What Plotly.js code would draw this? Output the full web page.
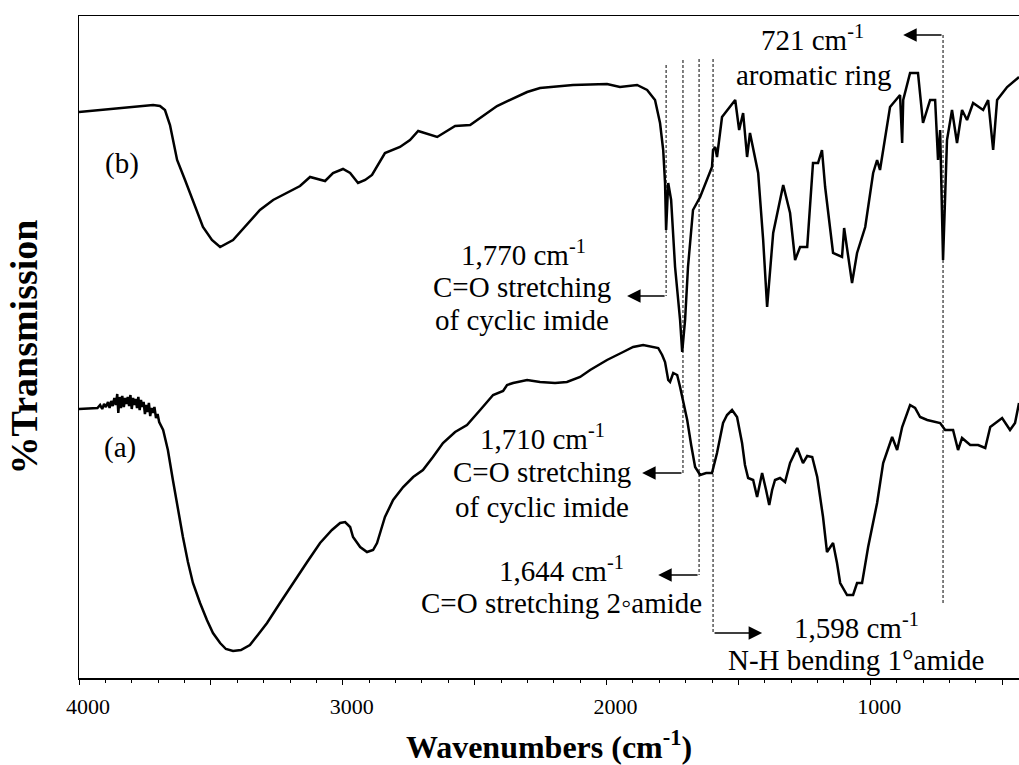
<!DOCTYPE html>
<html>
<head>
<meta charset="utf-8">
<script src="https://cdn.plot.ly/plotly-3.0.1.min.js"></script>
<style>html,body{margin:0;padding:0;background:#fff;}#chart{width:1019px;height:765px;}</style>
</head>
<body>
<div id="chart"></div>
<script>
// Spectrum (b) - top trace
const wnB = [4000,3920,3807,3719,3693,3674,3655,3628,3598,3568,3530,3496,3465,3416,3371,3314,3264,3211,3162,3124,3094,3067,3037,2999,2972,2942,2915,2889,2840,2783,2745,2714,2642,2574,2517,2460,2415,2301,2252,2127,1998,1949,1884,1846,1816,1797,1785,1778,1774,1766,1755,1740,1721,1713,1702,1691,1672,1645,1615,1600,1596,1588,1581,1562,1512,1497,1482,1467,1456,1425,1406,1391,1368,1330,1304,1285,1266,1239,1217,1198,1183,1171,1141,1107,1099,1088,1069,1050,1019,989,974,963,925,887,879,875,849,819,800,773,754,743,735,724,709,690,671,652,633,610,572,553,534,519,481,436];
const tB = [56.6,56.8,57.1,57.3,57.2,56.8,55.3,51.8,49.8,47.8,45.1,43.8,43.1,43.8,45.1,46.8,47.8,48.5,49.2,50.1,49.9,49.7,50.5,50.9,50.5,49.5,49.8,50.3,52.5,53.1,53.8,54.7,54.1,55.2,55.3,56.4,57.2,58.6,59.0,59.3,59.4,59.1,59.3,58.8,57.8,55.5,52.8,49.5,44.8,49.5,47.8,41.1,35.8,32.6,35.8,41.1,46.8,48.1,50.1,51.1,52.8,53.1,52.1,56.1,57.8,54.8,56.5,52.1,54.5,50.5,43.8,37.1,44.5,49.3,46.5,41.8,43.1,43.1,51.5,51.5,52.8,49.1,42.5,42.1,45.0,43.1,39.5,42.5,45.1,50.5,51.8,50.8,57.1,58.3,53.5,57.8,60.5,60.5,55.5,57.8,57.8,51.8,54.8,41.8,53.8,56.8,53.5,56.8,55.8,57.5,56.8,57.8,52.8,57.8,59.1,60.1];

// Spectrum (a) - bottom trace
const wnA = [4000,3958,3930,3920,3912,3905,3898,3890,3884,3878,3872,3866,3860,3855,3851,3846,3841,3836,3830,3825,3820,3815,3810,3805,3800,3795,3790,3785,3780,3775,3770,3765,3760,3755,3750,3745,3740,3735,3730,3725,3720,3714,3708,3702,3696,3681,3663,3644,3625,3606,3587,3568,3541,3515,3492,3465,3443,3416,3386,3352,3322,3287,3238,3189,3135,3086,3041,3010,2991,2972,2961,2934,2908,2885,2870,2855,2840,2809,2771,2733,2696,2658,2620,2574,2529,2479,2430,2392,2377,2354,2301,2252,2195,2150,2100,2062,1998,1937,1899,1861,1827,1804,1789,1778,1766,1759,1747,1732,1721,1706,1694,1679,1664,1645,1622,1600,1581,1558,1543,1524,1505,1486,1475,1463,1444,1429,1410,1395,1383,1372,1361,1342,1323,1304,1277,1255,1239,1220,1201,1179,1164,1141,1126,1114,1088,1065,1050,1031,1008,974,951,917,898,879,849,830,811,784,735,716,686,667,652,621,591,564,545,500,470,451,436];
const tA = [26.9,27.0,27.0,27.3,26.9,27.4,27.1,27.6,27.0,27.7,27.2,28.0,27.3,28.4,26.5,28.1,27.0,28.2,27.1,28.0,27.4,28.1,27.2,28.3,26.9,28.0,27.3,27.9,27.0,28.1,26.8,27.8,27.1,27.6,26.4,27.3,26.6,27.5,26.2,27.0,26.5,27.1,26.0,26.4,25.6,24.8,22.8,19.8,16.8,14.1,11.6,9.5,7.5,5.8,4.5,3.5,2.9,2.7,2.8,3.3,4.3,5.5,7.5,9.5,11.6,13.5,14.8,15.5,15.6,15.1,14.1,13.1,12.6,12.8,13.5,14.8,16.1,17.8,19.1,20.1,20.8,22.1,23.5,24.6,25.3,26.8,28.3,28.7,29.3,29.5,29.8,29.6,29.5,29.6,30.1,30.8,31.8,32.6,33.1,33.3,33.1,33.0,32.3,31.6,29.8,29.6,30.5,30.3,29.1,27.3,25.8,23.3,21.1,20.3,20.5,20.5,22.5,25.5,26.3,26.8,26.1,23.5,21.3,20.0,19.8,18.1,20.5,18.8,17.3,18.8,19.8,20.0,19.6,21.5,23.0,21.5,22.2,22.1,20.1,16.1,12.6,13.5,11.5,9.5,8.3,8.3,9.5,9.5,13.1,17.5,21.5,24.1,22.8,25.1,27.3,27.0,26.1,25.8,25.5,24.8,24.8,22.8,24.0,23.3,23.3,23.0,25.1,26.0,24.8,25.5,27.5];

// Axis ticks
const majorTicks = [4000,3500,3000,2500,2000,1500,1000,500];
const majorLabels = ['4000',' ','3000',' ','2000',' ','1000',' '];

// Peak markers: dashed guide (wavenumber, top, bottom), arrow (level, arrow tip)
const markWn     = [1774, 1710, 1649, 1596, 724];
const markTop    = [61.3, 61.8, 61.9, 61.9, 64.3];
const markBottom = [38.2, 20.5, 10.3, 4.5, 7.3];
const arrowLevel = [38.2, 20.5, 10.3, 4.5, 64.3];
const arrowTip   = [1922, 1865, 1804, 1410, 875];

// Text labels
const labelText = ['721 cm<sup>-1</sup>','aromatic ring',
  '1,770 cm<sup>-1</sup>','C=O stretching','of cyclic imide',
  '1,710 cm<sup>-1</sup>','C=O stretching','of cyclic imide',
  '1,644 cm<sup>-1</sup>','C=O stretching 2\u25E6amide',
  '1,598 cm<sup>-1</sup>','N-H bending 1\u00B0amide',
  '(b)','(a)'];
const labelWn = [1220,1217,2316,2320,2320,2241,2244,2244,2172,2172,1054,1054,3837,3845];
const labelT  = [64.0,60.3,42.5,39.1,35.8,24.1,20.6,17.1,10.9,7.5,5.2,1.8,51.5,23.1];

const FONT = "'Liberation Serif', 'Times New Roman', Times, serif";

const traces = [
  {x: wnB, y: tB, type: 'scatter', mode: 'lines', line: {color: '#000', width: 2.5}, name: '(b)'},
  {x: wnA, y: tA, type: 'scatter', mode: 'lines', line: {color: '#000', width: 2.5}, name: '(a)'}
];

const shapes = markWn.map((w, i) => ({
  type: 'line', xref: 'x', yref: 'y', x0: w, x1: w, y0: markTop[i], y1: markBottom[i],
  line: {color: '#000', width: 1, dash: '3px,2px'}
}));

const annotations = [];
markWn.forEach((w, i) => {
  annotations.push({
    xref: 'x', yref: 'y', axref: 'x', ayref: 'y',
    x: arrowTip[i], y: arrowLevel[i], ax: w, ay: arrowLevel[i],
    text: '', showarrow: true, arrowhead: 2, arrowsize: 1.8, arrowwidth: 1.5, arrowcolor: '#000',
    standoff: 0, startstandoff: 0
  });
});
labelText.forEach((t, i) => {
  annotations.push({
    xref: 'x', yref: 'y', x: labelWn[i], y: labelT[i], text: t, showarrow: false,
    xanchor: 'center', yanchor: 'middle',
    font: {family: FONT, size: 29, color: '#000'}
  });
});

const layout = {
  width: 1019, height: 765,
  margin: {l: 79, r: 0, t: 16, b: 87},
  paper_bgcolor: '#fff', plot_bgcolor: '#fff',
  showlegend: false,
  font: {family: FONT, color: '#000'},
  xaxis: {
    range: [4000, 436], showgrid: false, zeroline: false,
    showline: true, linecolor: '#000', linewidth: 1.5, mirror: true,
    tickmode: 'array', tickvals: majorTicks, ticktext: majorLabels,
    ticks: 'outside', ticklen: 5, tickwidth: 1, tickcolor: '#000',
    minor: {dtick: 100, tick0: 0, ticks: 'outside', ticklen: 3, tickwidth: 1, tickcolor: '#000', showgrid: false},
    tickfont: {family: FONT, size: 22, color: '#000'},
    ticklabelstandoff: 3,
    ticklabelshift: -9,
    title: {text: '<b>Wavenumbers (cm<sup>-1</sup>)</b>', font: {family: FONT, size: 32, color: '#000'}, standoff: 20}
  },
  yaxis: {
    range: [0, 66.2], showgrid: false, zeroline: false,
    showline: true, linecolor: '#000', linewidth: 1.5, mirror: false,
    showticklabels: false, ticks: '',
    title: {text: '<b>%Transmission</b>', font: {family: FONT, size: 38, color: '#000'}, standoff: 28}
  },
  shapes: shapes,
  annotations: annotations
};

Plotly.newPlot('chart', traces, layout, {displayModeBar: false, staticPlot: true});
</script>
</body>
</html>
